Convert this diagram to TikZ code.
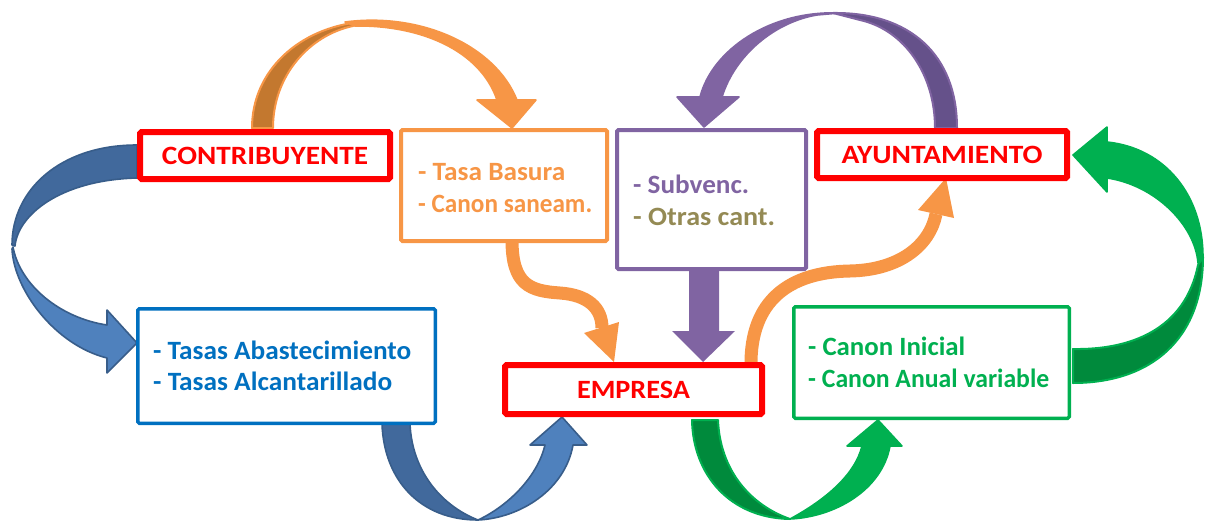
\documentclass[tikz,border=0pt]{standalone}
\usepackage{fontspec}
\setmainfont{Carlito}
\usepackage{graphicx}
\definecolor{cred}{HTML}{FF0000}
\definecolor{co}{HTML}{F79646}
\definecolor{cob}{HTML}{C3782F}
\definecolor{cpur}{HTML}{8064A2}
\definecolor{cpb}{HTML}{65518A}
\definecolor{colive}{HTML}{948A54}
\definecolor{cblue}{HTML}{0070C0}
\definecolor{bfront}{HTML}{4F81BD}
\definecolor{bback}{HTML}{41699C}
\definecolor{bline}{HTML}{385D8A}
\definecolor{cgreen}{HTML}{00B050}
\definecolor{cgb}{HTML}{008A3C}
\tikzset{
  box/.style={draw, fill=white, rounded corners=1.5pt, inner sep=0pt},
  redbox/.style={box, draw=cred, line width=6pt, text=cred, font=\fontsize{26.4}{30}\selectfont\bfseries},
  lbl/.style={font=\fontsize{26.4}{30}\selectfont\bfseries, inner sep=0pt},
  txt/.style={lbl, anchor=base west},
  rib/.style={line width=1.6pt, line join=round},
  bluebackface/.style={rib, fill=bback, draw=bline},
  bluefrontface/.style={rib, fill=bfront, draw=bline},
  orbackface/.style={rib, fill=cob, draw=co, line width=2pt},
  orfrontface/.style={rib, fill=co, draw=co},
  purbackface/.style={rib, fill=cpb, draw=cpur, line width=2pt},
  purfrontface/.style={rib, fill=cpur, draw=cpur},
  grbackface/.style={rib, fill=cgb, draw=cgreen, line width=2pt},
  grfrontface/.style={rib, fill=cgreen, draw=cgreen},
  orline/.style={draw=co, line width=13pt},
}
\begin{document}
\begin{tikzpicture}[x=1pt,y=-1pt]
\useasboundingbox (0,0) rectangle (1205,522);

% ---------- ribbon arrows ----------
% blue, left (CONTRIBUYENTE -> Tasas box)
\filldraw[bluebackface] (137,145) .. controls (60,145) and (12,190) .. (12,245)
  -- (15,246) .. controls (18,215) and (60,180) .. (137,178) -- cycle;
\filldraw[bluefrontface] (13,247) .. controls (20,285) and (60,318) .. (107,325)
  -- (107,310) -- (137,343) -- (107,373) -- (107,358)
  .. controls (55,345) and (14,290) .. (12,249) -- cycle;
% blue, bottom (Tasas box -> EMPRESA)
\filldraw[bluebackface] (382,424) .. controls (384,480) and (420,520) .. (478,520)
  .. controls (440,505) and (412,470) .. (410,424) -- cycle;
\filldraw[bluefrontface] (478,520) .. controls (510,505) and (538,475) .. (545,445)
  -- (530,445) -- (562,417) -- (587,445) -- (573,445)
  .. controls (565,490) and (520,518) .. (478,520) -- cycle;
% green, bottom (EMPRESA -> Canon box)
\filldraw[grbackface] (692,420) .. controls (693,475) and (730,518) .. (790,519)
  .. controls (750,505) and (720,470) .. (718,420) -- cycle;
\filldraw[grfrontface] (790,519) .. controls (825,500) and (855,475) .. (862,446)
  -- (847,446) -- (878,420) -- (902,446) -- (890,446)
  .. controls (882,490) and (835,517) .. (790,519) -- cycle;
% green, right (Canon box -> AYUNTAMIENTO)
\filldraw[grbackface] (1203,257) .. controls (1203,340) and (1150,383) .. (1073,383)
  -- (1073,349) .. controls (1130,350) and (1185,330) .. (1198,265) -- cycle;
\filldraw[grfrontface] (1107,142) .. controls (1165,148) and (1203,195) .. (1203,257)
  -- (1198,263) .. controls (1195,225) and (1155,185) .. (1107,178)
  -- (1107,192) -- (1073,155) -- (1107,127) -- cycle;
% orange, top (CONTRIBUYENTE -> Tasa box)
\filldraw[orbackface] (252,128) .. controls (252,70) and (300,28) .. (360,22)
  -- (353,26) .. controls (310,35) and (273,75) .. (273,128) -- cycle;
\filldraw[orfrontface] (345,22) .. controls (420,12) and (495,45) .. (517,100)
  -- (536,100) -- (512,128) -- (477,100) -- (497,100)
  .. controls (480,50) and (420,25) .. (355,26) -- cycle;
% purple, top (AYUNTAMIENTO -> Subvenc box)
\filldraw[purbackface] (957,128) .. controls (957,55) and (910,12) .. (833,13)
  -- (860,20) .. controls (905,30) and (935,75) .. (935,128) -- cycle;
\filldraw[purfrontface] (840,13) .. controls (770,10) and (712,50) .. (700,97)
  -- (677,97) -- (704,127) -- (739,97) -- (722,97)
  .. controls (735,55) and (775,22) .. (817,15) -- cycle;
% orange thin arrows
\draw[orline] (512,240) .. controls (512,285) and (530,291) .. (560,293)
  .. controls (588,295) and (602,308) .. (602,328);
\fill[co] (584,333) -- (614,362) -- (619,322) -- cycle;
\draw[orline] (751,366) .. controls (750,300) and (790,272) .. (850,271)
  .. controls (900,270) and (930,245) .. (936,214);
\fill[co] (918,210) -- (946,178) -- (954,218) -- cycle;
% purple straight arrow
\fill[cpur] (689,268) -- (689,331) -- (672,331) -- (703,362) -- (735,331) -- (719,331) -- (719,268) -- cycle;

% ---------- boxes ----------
\node[redbox, minimum width=250pt, minimum height=47pt] (contrib) at (265,155.5) {\resizebox{206pt}{\height}{CONTRIBUYENTE}};
\node[redbox, minimum width=250pt, minimum height=47pt] (ayto) at (942,154.5) {\resizebox{201pt}{\height}{AYUNTAMIENTO}};
\node[redbox, minimum width=257pt, minimum height=49pt] (empresa) at (633.5,389.5) {\resizebox{113pt}{\height}{EMPRESA}};
\node[box, draw=co, line width=4pt, minimum width=206pt, minimum height=111pt] (orbox) at (504,185.5) {};
\node[box, draw=cpur, line width=4pt, minimum width=189pt, minimum height=139pt] (purbox) at (711.5,199.5) {};
\node[box, draw=cblue, line width=3.5pt, minimum width=297.5pt, minimum height=114.5pt] (bluebox) at (286.5,366) {};
\node[box, draw=cgreen, line width=3.5pt, minimum width=275.5pt, minimum height=111.5pt] (grbox) at (931.5,362.5) {};

% ---------- texts ----------
\node[txt, text=co] (ta) at (418,180) {\resizebox{147pt}{\height}{- Tasa Basura}};
\node[txt, text=co] (tb) at (418,212) {\resizebox{174pt}{\height}{- Canon saneam.}};
\node[txt, text=cpur] (tc) at (633,193) {\resizebox{116pt}{\height}{- Subvenc.}};
\node[txt, text=colive] (td) at (633,225) {\resizebox{142pt}{\height}{- Otras cant.}};
\node[txt, text=cblue] (te) at (153,359) {\resizebox{258pt}{\height}{- Tasas Abastecimiento}};
\node[txt, text=cblue] (tf) at (153,390) {\resizebox{239pt}{\height}{- Tasas Alcantarillado}};
\node[txt, text=cgreen] (tg) at (808,355) {\resizebox{157pt}{\height}{- Canon Inicial}};
\node[txt, text=cgreen] (th) at (808,387) {\resizebox{241pt}{\height}{- Canon Anual variable}};
\end{tikzpicture}
\end{document}
